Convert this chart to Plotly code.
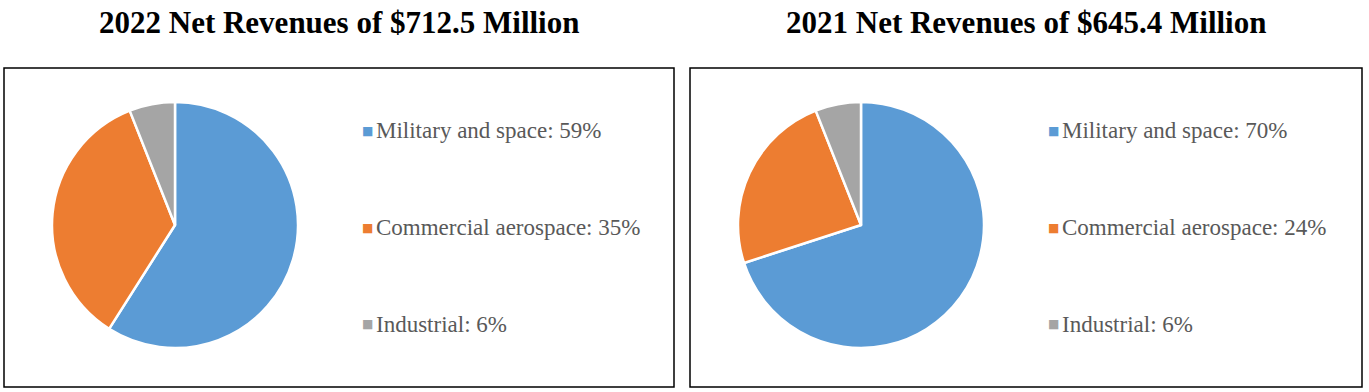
import plotly.graph_objects as go

W, H = 1369, 392

categories = ["Military and space", "Commercial aerospace", "Industrial"]
values_2022 = [59, 35, 6]
values_2021 = [70, 24, 6]
titles = ["2022 Net Revenues of $712.5 Million", "2021 Net Revenues of $645.4 Million"]
colors = ["#5B9BD5", "#ED7D31", "#A5A5A5"]

def px_x(x):
    return x / W

def px_y(y):
    return 1 - y / H

panels = [
    dict(values=values_2022, title=titles[0], box=(4, 674), cx=175),
    dict(values=values_2021, title=titles[1], box=(690, 1362), cx=861),
]

fig = go.Figure()
annotations = []
shapes = []
R = 123
CY = 225
for p in panels:
    fig.add_trace(go.Pie(
        labels=categories,
        values=p["values"],
        sort=False,
        direction="clockwise",
        rotation=0,
        marker=dict(colors=colors, line=dict(color="white", width=2.5)),
        textinfo="none",
        hoverinfo="label+percent",
        showlegend=False,
        domain=dict(x=[px_x(p["cx"] - R), px_x(p["cx"] + R)],
                    y=[px_y(CY + R), px_y(CY - R)]),
    ))
    x0, x1 = p["box"]
    shapes.append(dict(type="rect", xref="paper", yref="paper",
                       x0=px_x(x0), x1=px_x(x1), y0=px_y(387), y1=px_y(68),
                       line=dict(color="black", width=1.5)))
    annotations.append(dict(text="<b>" + p["title"] + "</b>", x=px_x((x0 + x1) / 2), y=px_y(23),
                            xref="paper", yref="paper", showarrow=False,
                            xanchor="center", yanchor="middle",
                            font=dict(family="Liberation Serif", size=31, color="black")))
    total = sum(p["values"])
    for i, (cat, v) in enumerate(zip(categories, p["values"])):
        yy = 131 + 96.5 * i
        pct = round(100 * v / total)
        annotations.append(dict(text="■", x=px_x(p["cx"] + 192), y=px_y(yy),
                                xref="paper", yref="paper", showarrow=False,
                                xanchor="center", yanchor="middle",
                                font=dict(family="DejaVu Sans", size=12, color=colors[i])))
        annotations.append(dict(text=f"{cat}: {pct}%", x=px_x(p["cx"] + 199), y=px_y(yy),
                                xref="paper", yref="paper", showarrow=False,
                                xanchor="left", yanchor="middle",
                                font=dict(family="Liberation Serif", size=23, color="#595959")))

fig.update_layout(
    width=W, height=H,
    margin=dict(l=0, r=0, t=0, b=0),
    paper_bgcolor="white",
    plot_bgcolor="white",
    shapes=shapes,
    annotations=annotations,
)

fig.write_html("out.html",
               config={"displayModeBar": False},
               post_script="document.body.style.margin='0';document.body.style.overflow='hidden';")
